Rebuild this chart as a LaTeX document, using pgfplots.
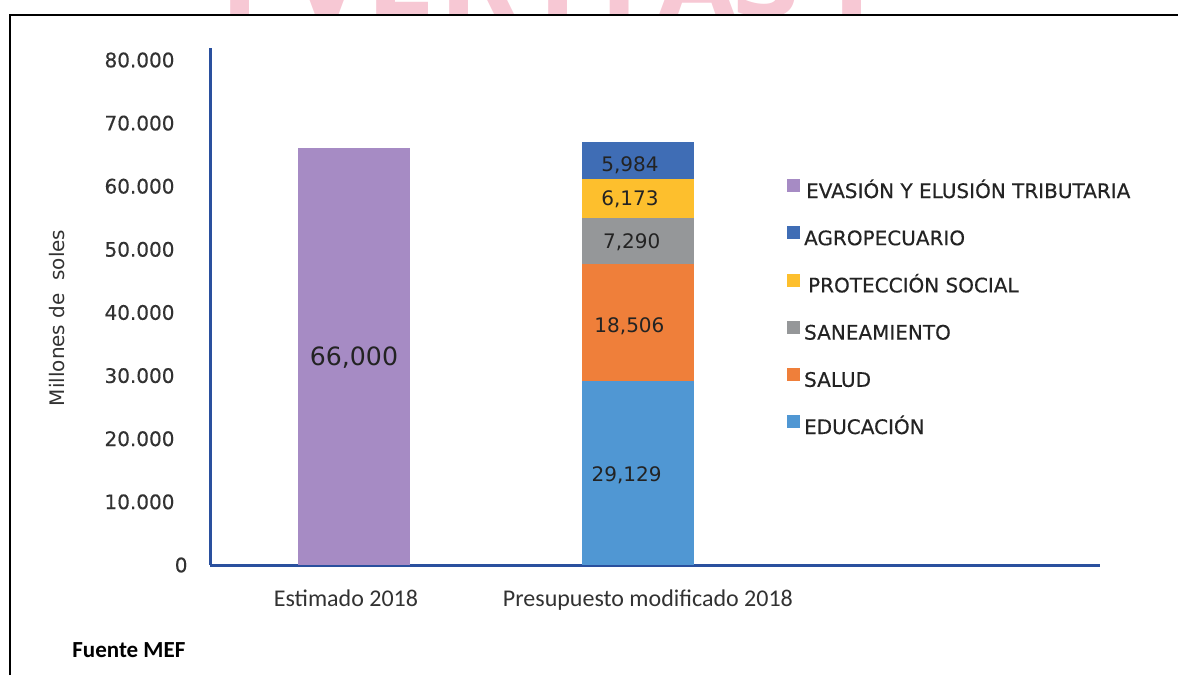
\documentclass[border=0pt]{standalone}
\usepackage{pgfplots}
\pgfplotsset{compat=1.18}
\usepackage{fontspec}
\setmainfont{DejaVu Sans}
\newfontfamily\carlito{Carlito}
\newfontfamily\dvsemi[FakeBold=0.4]{DejaVu Sans}
\definecolor{cEva}{RGB}{166,139,196}
\definecolor{cAgro}{RGB}{63,109,181}
\definecolor{cProt}{RGB}{253,191,45}
\definecolor{cSan}{RGB}{149,151,153}
\definecolor{cSal}{RGB}{239,127,58}
\definecolor{cEdu}{RGB}{80,151,211}
\definecolor{axisblue}{RGB}{42,80,158}
\definecolor{txt}{RGB}{50,50,50}
\definecolor{lbl}{RGB}{35,35,35}
\definecolor{wm}{RGB}{247,200,212}
\newcommand{\LE}[1]{\raisebox{0pt}[7.3pt][0pt]{#1}}
\begin{document}
\begin{tikzpicture}
\path[use as bounding box] (0,0) rectangle (589pt,337.5pt);
\begin{scope}
\clip (0,330pt) rectangle (589pt,337.5pt);
\foreach \x/\l in {120/I,163.5/V,201/E,239.5/R,279/I,310/T,348.5/A,383.5/S,426/I}
  \node[anchor=base, text=wm, font=\bfseries\fontsize{50}{50}\selectfont, inner sep=0pt] at (\x pt,329pt) {\l};
\end{scope}
\draw[line width=1.1pt] (5pt,0) -- (5pt,330pt) -- (589pt,330pt);
\node[anchor=base west, font=\carlito\bfseries\fontsize{11.5}{13}\selectfont, text=black, inner sep=0pt] at (36pt,9pt) {Fuente MEF};

\begin{axis}[at={(105pt,55pt)}, anchor=south west, scale only axis,
  width=445pt, height=258.5pt,
  ybar stacked, bar width=56pt,
  xmin=-0.507, xmax=2.627, ymin=0, ymax=81900,
  scaled y ticks=false,
  axis lines=left, axis line style={-, draw=axisblue, line width=1.5pt},
  major tick length=0pt,
  xtick={0,1}, xticklabels={Estimado 2018\hspace*{8pt}, \hspace*{10pt}Presupuesto modificado 2018},
  xticklabel style={font=\carlito\fontsize{12}{14}\selectfont, text=txt, yshift=-9pt},
  ytick={0,10000,20000,30000,40000,50000,60000,70000,80000},
  yticklabels={0\hspace*{-6.5pt},10.000,20.000,30.000,40.000,50.000,60.000,70.000,80.000},
  yticklabel style={font=\dvsemi\fontsize{10}{12}\selectfont, text=txt, xshift=-14.2pt},
  ylabel={Millones de\ \ soles},
  every axis y label/.style={at={(axis description cs:-0.172,0.478)}, rotate=90, anchor=center, font=\fontsize{10}{12}\selectfont, text=txt},
  legend style={at={(0.648,0.747)}, anchor=north west, draw=none, fill=none, inner sep=0pt,
    row sep=10.7pt, font=\dvsemi\fontsize{10}{12}\selectfont, text=lbl},
  legend cell align=left,
  legend image code/.code={\fill[#1] (0pt,0pt) rectangle (6.5pt,6.5pt);},
  reverse legend,
]
\addplot[fill=cEdu, draw=none] coordinates {(0,0) (1,29129)};
\addlegendentry{\LE{EDUCACIÓN}}
\addplot[fill=cSal, draw=none] coordinates {(0,0) (1,18506)};
\addlegendentry{\LE{SALUD}}
\addplot[fill=cSan, draw=none] coordinates {(0,0) (1,7290)};
\addlegendentry{\LE{SANEAMIENTO}}
\addplot[fill=cProt, draw=none] coordinates {(0,0) (1,6173)};
\addlegendentry{\LE{\hspace*{2pt}PROTECCIÓN SOCIAL}}
\addplot[fill=cAgro, draw=none] coordinates {(0,0) (1,5984)};
\addlegendentry{\LE{AGROPECUARIO}}
\addplot[fill=cEva, draw=none] coordinates {(0,66000) (1,0)};
\addlegendentry{\LE{\hspace*{1pt}EVASIÓN Y ELUSIÓN TRIBUTARIA}}
\end{axis}

\begin{axis}[at={(105pt,55pt)}, anchor=south west, scale only axis,
  width=445pt, height=258.5pt,
  xmin=-0.507, xmax=2.627, ymin=0, ymax=81900, hide axis]
\addplot[only marks, mark=none, nodes near coords, point meta=explicit symbolic,
  nodes near coords style={anchor=base, font=\fontsize{10}{12}\selectfont, text=lbl}]
  coordinates {(0.972,62257)[5,984] (0.972,56871)[6,173] (0.978,50059)[7,290] (0.97,36752)[18,506] (0.96,13149)[29,129]};
\addplot[only marks, mark=none, nodes near coords, point meta=explicit symbolic,
  nodes near coords style={anchor=base, font=\fontsize{12.6}{14}\selectfont, text=lbl}]
  coordinates {(0,31525)[66,000]};
\end{axis}
\end{tikzpicture}
\end{document}
